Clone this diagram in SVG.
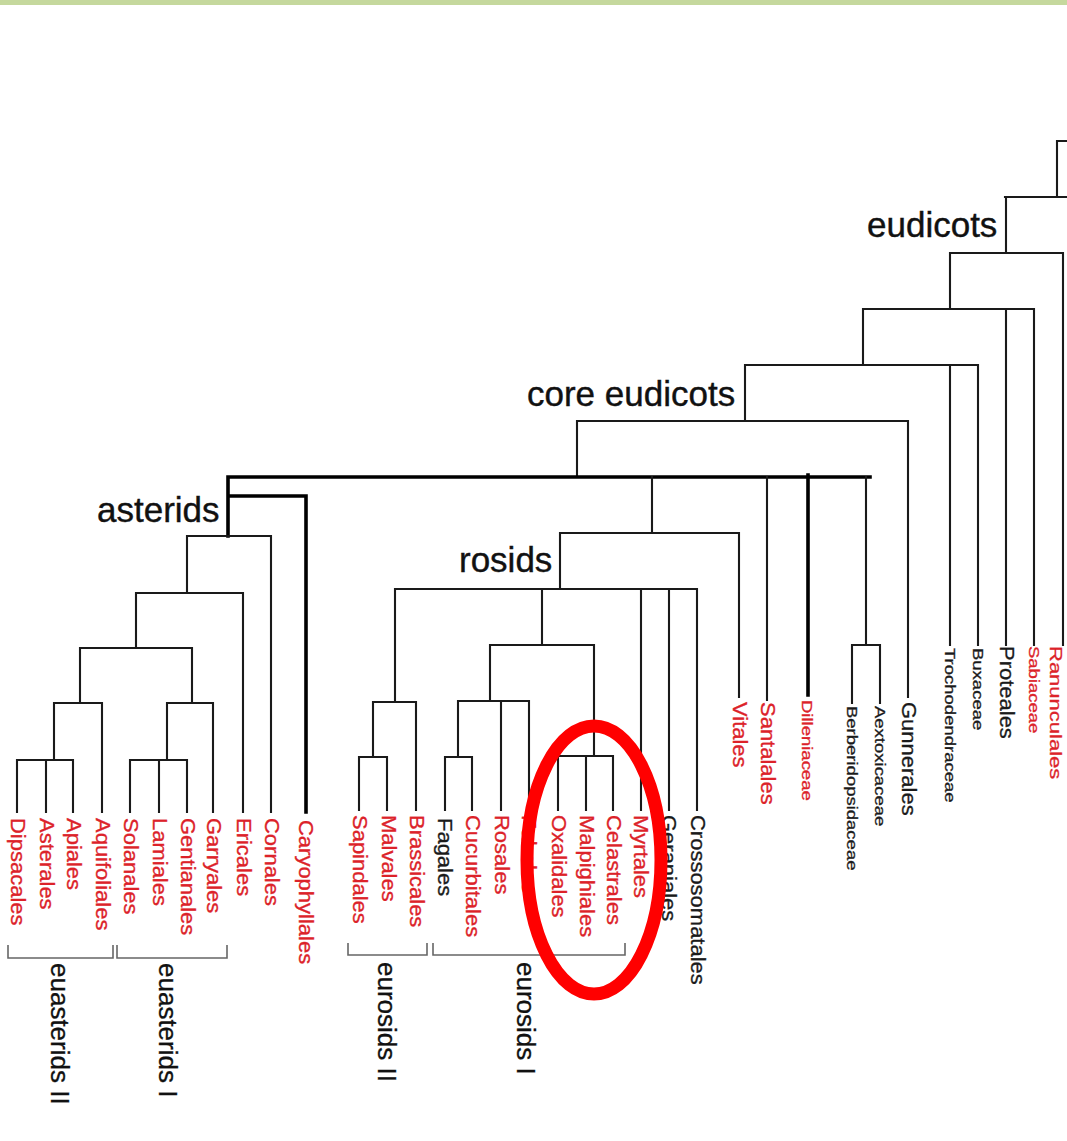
<svg xmlns="http://www.w3.org/2000/svg" width="1067" height="1141" viewBox="0 0 1067 1141">
<style>
.t{fill:none;stroke:#1a1a1a;stroke-width:2.1;stroke-linecap:square}
.T{fill:none;stroke:#000;stroke-width:3.6;stroke-linecap:square}
.b{fill:none;stroke:#666;stroke-width:1.6}
text{font-family:"Liberation Sans",Arial,sans-serif}
.lf{font-size:22px}
.sm{font-size:18.5px}
.r{fill:#dc2229;stroke:#dc2229;stroke-width:0.35}
.k{fill:#1a1a1a;stroke:#1a1a1a;stroke-width:0.35}
.big{font-size:35px;fill:#111;stroke:#111;stroke-width:0.4}
.br{font-size:26px;fill:#111;stroke:#111;stroke-width:0.3}
</style>
<rect width="1067" height="1141" fill="#fff"/>
<rect width="1067" height="5" fill="#c5d89d"/>
<g id="connectors">
<path class="t" d="M1057,141H1070M1057,141V197M1005,197H1070M1006,197V253M950,253H1063M1063,253V645M950,253V309M863,309H1034M1006,309V645M1034,309V645M863,309V365M745,365H978M950,365V645M978,365V645M745,365V421M577,421H908M908,421V697M577,421V477"/>
<path class="T" d="M228,477H870M808,475V695M228,477V536M228,496H306V812"/>
<path class="t" d="M652,477V533M767,477V700M866,477V645M852,645H880M852,645V703M880,645V703M560,533H739M739,533V697M560,533V589M395,589H697M641,589V810M669,589V810M697,589V810M395,589V702M373,702H416M416,702V810M373,702V757M359,757H387M359,757V810M387,757V810M542,589V645M490,645H594M490,645V701M594,645V756M458,701H529M458,701V757M501,701V810M529,701V810M445,757H472M445,757V810M472,757V810M558,756H613M558,756V810M586,756V810M613,756V810"/>
<path class="t" d="M187,536H271M271,536V812M187,536V593M136,593H243M243,593V812M136,593V648M80,648H192M80,648V703M54,703H102M102,703V812M54,703V760M17,760H73M17,760V812M46,760V812M73,760V812M192,648V703M167,703H213M213,703V812M167,703V760M130,760H187M130,760V812M159,760V812M187,760V812"/>
<path class="b" d="M8,945V958H113V945M117,945V958H227V945M348,943V955H427V943M433,943V955H625V943"/>
</g>
<g id="clade-labels">
<text class="big" x="867" y="237">eudicots</text>
<text class="big" x="527" y="406">core eudicots</text>
<text class="big" x="97" y="522">asterids</text>
<text class="big" x="459" y="572">rosids</text>
</g>
<g id="leaf-Dipsacales"><text class="lf r" transform="translate(11,818) rotate(90) scale(1,0.9)">Dipsacales</text></g>
<g id="leaf-Asterales"><text class="lf r" transform="translate(40,818) rotate(90) scale(1,0.9)">Asterales</text></g>
<g id="leaf-Apiales"><text class="lf r" transform="translate(67,818) rotate(90) scale(1,0.9)">Apiales</text></g>
<g id="leaf-Aquifoliales"><text class="lf r" transform="translate(96,818) rotate(90) scale(1,0.9)">Aquifoliales</text></g>
<g id="leaf-Solanales"><text class="lf r" transform="translate(124,818) rotate(90) scale(1,0.9)">Solanales</text></g>
<g id="leaf-Lamiales"><text class="lf r" transform="translate(153,818) rotate(90) scale(1,0.9)">Lamiales</text></g>
<g id="leaf-Gentianales"><text class="lf r" transform="translate(181,818) rotate(90) scale(1,0.9)">Gentianales</text></g>
<g id="leaf-Garryales"><text class="lf r" transform="translate(207,818) rotate(90) scale(1,0.9)">Garryales</text></g>
<g id="leaf-Ericales"><text class="lf r" transform="translate(237,818) rotate(90) scale(1,0.9)">Ericales</text></g>
<g id="leaf-Cornales"><text class="lf r" transform="translate(265,818) rotate(90) scale(1,0.9)">Cornales</text></g>
<g id="leaf-Caryophyllales"><text class="lf r" transform="translate(299,820) rotate(90) scale(1,0.9)">Caryophyllales</text></g>
<g id="leaf-Sapindales"><text class="lf r" transform="translate(353,815) rotate(90) scale(1,0.9)">Sapindales</text></g>
<g id="leaf-Malvales"><text class="lf r" transform="translate(382,815) rotate(90) scale(1,0.9)">Malvales</text></g>
<g id="leaf-Brassicales"><text class="lf r" transform="translate(410,815) rotate(90) scale(1,0.9)">Brassicales</text></g>
<g id="leaf-Fagales"><text class="lf k" transform="translate(438,818) rotate(90) scale(1,0.9)">Fagales</text></g>
<g id="leaf-Cucurbitales"><text class="lf r" transform="translate(466,815) rotate(90) scale(1,0.9)">Cucurbitales</text></g>
<g id="leaf-Rosales"><text class="lf r" transform="translate(495,815) rotate(90) scale(1,0.9)">Rosales</text></g>
<g id="leaf-Fabales"><text class="lf r" transform="translate(522,815) rotate(90) scale(1,0.9)">Fabales</text></g>
<g id="leaf-Oxalidales"><text class="lf r" transform="translate(552,815) rotate(90) scale(1,0.9)">Oxalidales</text></g>
<g id="leaf-Malpighiales"><text class="lf r" transform="translate(580,815) rotate(90) scale(1,0.9)">Malpighiales</text></g>
<g id="leaf-Celastrales"><text class="lf r" transform="translate(607,815) rotate(90) scale(1,0.9)">Celastrales</text></g>
<g id="leaf-Myrtales"><text class="lf r" transform="translate(634,815) rotate(90) scale(1,0.9)">Myrtales</text></g>
<g id="leaf-Geraniales"><text class="lf k" transform="translate(662,815) rotate(90) scale(1,0.9)">Geraniales</text></g>
<g id="leaf-Crossosomatales"><text class="lf k" transform="translate(691,815) rotate(90) scale(1,0.9)">Crossosomatales</text></g>
<g id="leaf-Vitales"><text class="lf r" transform="translate(733,702) rotate(90) scale(1,0.9)">Vitales</text></g>
<g id="leaf-Santalales"><text class="lf r" transform="translate(761,702) rotate(90) scale(1,0.9)">Santalales</text></g>
<g id="leaf-Dilleniaceae"><text class="sm r" transform="translate(802,700) rotate(90) scale(1,0.82)">Dilleniaceae</text></g>
<g id="leaf-Berberidopsidaceae"><text class="sm k" transform="translate(847,706) rotate(90) scale(1,0.82)">Berberidopsidaceae</text></g>
<g id="leaf-Aextoxicaceae"><text class="sm k" transform="translate(875,706) rotate(90) scale(1,0.82)">Aextoxicaceae</text></g>
<g id="leaf-Gunnerales"><text class="lf k" transform="translate(902,702) rotate(90) scale(1,0.9)">Gunnerales</text></g>
<g id="leaf-Trochodendraceae"><text class="sm k" transform="translate(945,648) rotate(90) scale(1,0.82)">Trochodendraceae</text></g>
<g id="leaf-Buxaceae"><text class="sm k" transform="translate(973,648) rotate(90) scale(1,0.82)">Buxaceae</text></g>
<g id="leaf-Proteales"><text class="lf k" transform="translate(1000,646) rotate(90) scale(1,0.9)">Proteales</text></g>
<g id="leaf-Sabiaceae"><text class="sm r" transform="translate(1029,646) rotate(90) scale(1,0.82)">Sabiaceae</text></g>
<g id="leaf-Ranunculales"><text class="lf r" transform="translate(1050,646) rotate(90) scale(1,0.78)">Ranunculales</text></g>
<g id="bracket-labels">
<text class="br" transform="translate(51,963) rotate(90)">euasterids II</text>
<text class="br" transform="translate(159,963) rotate(90)">euasterids I</text>
<text class="br" transform="translate(378,962) rotate(90)">eurosids II</text>
<text class="br" transform="translate(517,962) rotate(90)">eurosids I</text>
</g>
<g id="highlight"><ellipse cx="594" cy="860" rx="67" ry="134" fill="none" stroke="#f00" stroke-width="13"/></g>
</svg>
